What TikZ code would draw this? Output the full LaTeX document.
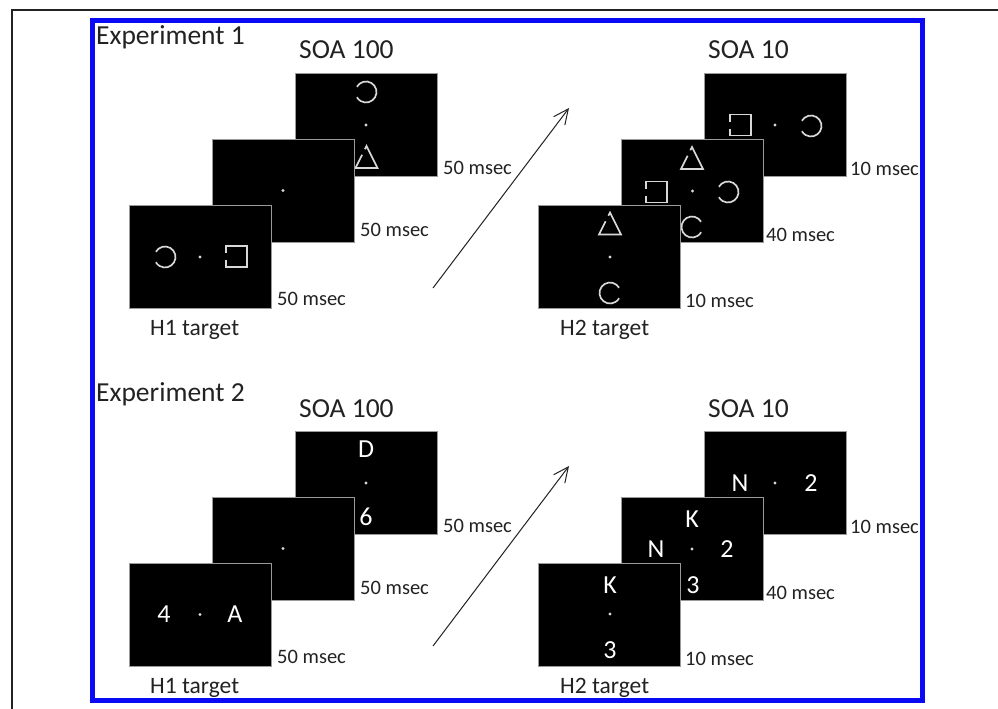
\documentclass[tikz,border=0pt]{standalone}
\usepackage{fontspec}
\setmainfont{Carlito}
\usetikzlibrary{arrows.meta}
\definecolor{ink}{HTML}{222222}
\definecolor{stimcol}{HTML}{D8D8D8}
\definecolor{frameblue}{HTML}{0A0AF5}
\definecolor{scrborder}{HTML}{9A9A9A}
\tikzset{
 screen/.style={fill=black, draw=scrborder, line width=0.9pt, minimum width=142pt, minimum height=103pt, inner sep=0pt, anchor=north west},
 title/.style={font=\fontsize{27.5}{30}\selectfont, text=ink, anchor=base west, inner sep=0pt},
 dur/.style={font=\fontsize{20.5}{24}\selectfont, text=ink, anchor=base west, inner sep=0pt},
 tgt/.style={font=\fontsize{23.5}{26}\selectfont, text=ink, anchor=base west, inner sep=0pt},
 glyph/.style={font=\fontsize{26}{28}\selectfont, text=white, inner sep=0pt, anchor=center},
 stim/.style={draw=stimcol, line width=1.7pt},
 fixdot/.style={fill=stimcol, circle, inner sep=0pt, minimum size=3.2pt},
 pics/ringL/.style={code={\draw[stim] (150:10.5pt) arc[start angle=150, end angle=-150, radius=10.5pt];}},
 pics/ringR/.style={code={\draw[stim] (30:10.5pt) arc[start angle=30, end angle=330, radius=10.5pt];}},
 pics/sqL/.style={code={\draw[stim] (-10.5pt,-3.5pt) -- (-10.5pt,-10.5pt) -- (10.5pt,-10.5pt) -- (10.5pt,10.5pt) -- (-10.5pt,10.5pt) -- (-10.5pt,3.5pt);}},
 pics/tri/.style={code={\draw[stim] (-4.4pt,2.2pt) -- (-11pt,-11pt) -- (11pt,-11pt) -- (0pt,11pt) -- (-1.65pt,7.7pt);}},
 jump/.style={draw=ink, line width=1pt, -{Straight Barb[length=15pt,width=14pt,line width=1pt]}},
}
\begin{document}
\begin{tikzpicture}[x=1pt,y=-1pt]
\useasboundingbox (0,0) rectangle (998,709);
\fill[white] (0,0) rectangle (998,709);
% outer frame (cropped) and blue frame
\draw[ink, line width=1.6pt] (12,709) -- (12,10) -- (998,10);
\draw[frameblue, line width=5pt] (92,21) rectangle (922,700);

% ================= Experiment 1 =================
\node[title] (e1) at (96,45) {Experiment 1};
\node[title] (s1a) at (299,59) {SOA 100};
\node[title] (s1b) at (708,59) {SOA 10};

% SOA 100, back screen
\node[screen] (A3) at (295,73) {};
\pic at (366,92) {ringL};
\node[fixdot] (A3d) at (366,125) {};
\pic at (366.5,157) {tri};
% middle
\node[screen] (A2) at (212,139) {};
\node[fixdot] (A2d) at (283,190.5) {};
% front
\node[screen] (A1) at (129,205) {};
\pic at (165,257) {ringL};
\node[fixdot] (A1d) at (200,257) {};
\pic at (236.5,256.5) {sqL};

\node[dur] (A3t) at (443,174) {50 msec};
\node[dur] (A2t) at (360,236) {50 msec};
\node[dur] (A1t) at (277,305) {50 msec};
\node[tgt] (h1a) at (150,335) {H1 target};

% SOA 10, back screen
\node[screen] (B3) at (704,73) {};
\pic at (740.5,125) {sqL};
\node[fixdot] (B3d) at (775,125) {};
\pic at (811,126) {ringL};
% middle
\node[screen] (B2) at (621,139) {};
\pic at (692,158) {tri};
\pic at (656.5,192) {sqL};
\node[fixdot] (B2d) at (692.5,191) {};
\pic at (728,192) {ringL};
\pic at (692,227) {ringR};
% front
\node[screen] (B1) at (538,205) {};
\pic at (610,223.5) {tri};
\node[fixdot] (B1d) at (610,257) {};
\pic at (610,293) {ringR};

\node[dur] (B3t) at (850,175) {10 msec};
\node[dur] (B2t) at (766,241) {40 msec};
\node[dur] (B1t) at (685,307) {10 msec};
\node[tgt] (h2a) at (560,335) {H2 target};

\coordinate (r1s) at (433,288);
\coordinate (r1e) at (569,108);
\draw[jump] (r1s) -- (r1e);

% ================= Experiment 2 =================
\node[title] (e2) at (96,401) {Experiment 2};
\node[title] (s2a) at (299,417) {SOA 100};
\node[title] (s2b) at (708,417) {SOA 10};

\node[screen] (C3) at (295,431) {};
\node[glyph] (C3a) at (366,449) {D};
\node[fixdot] (C3d) at (366,483) {};
\node[glyph] (C3b) at (366,516.5) {6};
\node[screen] (C2) at (212,497) {};
\node[fixdot] (C2d) at (283,548.5) {};
\node[screen] (C1) at (129,563) {};
\node[glyph] (C1a) at (164,614.5) {4};
\node[fixdot] (C1d) at (200,614.5) {};
\node[glyph] (C1b) at (235,614.5) {A};

\node[dur] (C3t) at (443,532) {50 msec};
\node[dur] (C2t) at (360,594) {50 msec};
\node[dur] (C1t) at (277,663) {50 msec};
\node[tgt] (h1b) at (150,693) {H1 target};

\node[screen] (D3) at (704,431) {};
\node[glyph] (D3a) at (740,483) {N};
\node[fixdot] (D3d) at (775,483) {};
\node[glyph] (D3b) at (811,483) {2};
\node[screen] (D2) at (621,497) {};
\node[glyph] (D2a) at (692,519) {K};
\node[glyph] (D2b) at (656,549) {N};
\node[fixdot] (D2d) at (692,549) {};
\node[glyph] (D2c) at (727,549) {2};
\node[glyph] (D2e) at (693,585) {3};
\node[screen] (D1) at (538,563) {};
\node[glyph] (D1a) at (610,585) {K};
\node[fixdot] (D1d) at (610,614) {};
\node[glyph] (D1b) at (610,650) {3};

\node[dur] (D3t) at (850,533) {10 msec};
\node[dur] (D2t) at (766,599) {40 msec};
\node[dur] (D1t) at (685,665) {10 msec};
\node[tgt] (h2b) at (560,693) {H2 target};

\coordinate (r2s) at (433,646);
\coordinate (r2e) at (569,466);
\draw[jump] (r2s) -- (r2e);
\end{tikzpicture}
\end{document}
